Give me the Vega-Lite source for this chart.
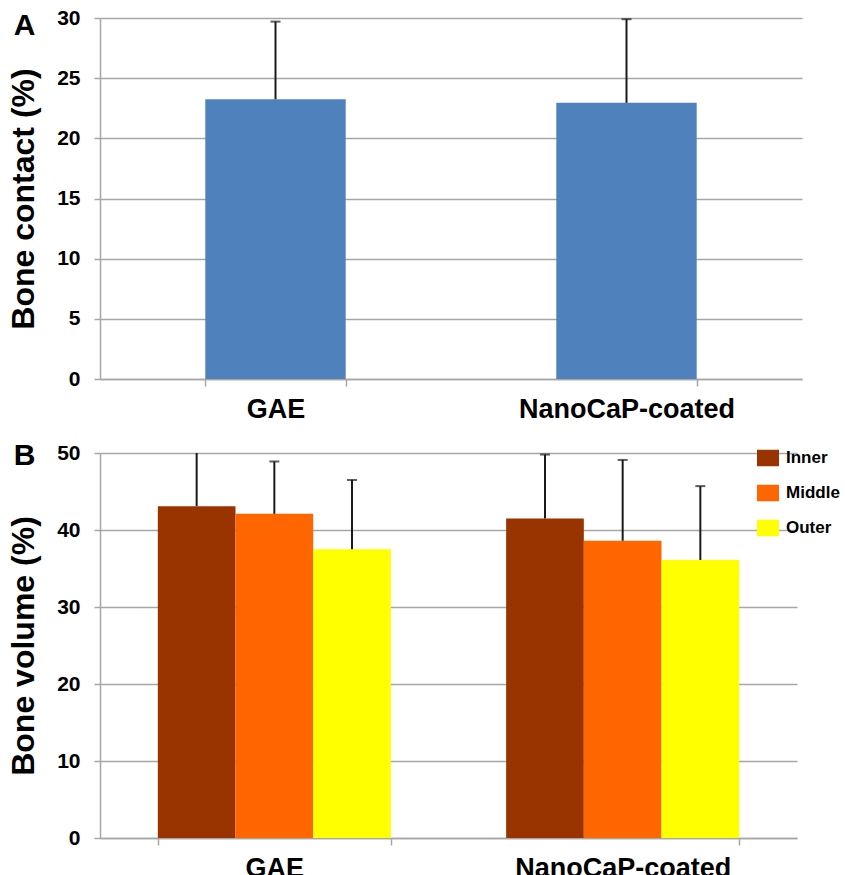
{
  "$schema": "https://vega.github.io/schema/vega-lite/v6.json",
  "background": "white",
  "padding": {"left": 7, "top": 7, "right": 0, "bottom": 0},
  "spacing": 19,
  "resolve": {"legend": {"color": "independent"}, "scale": {"color": "independent"}},
  "config": {
    "view": {"stroke": null},
    "font": "Liberation Sans",
    "axis": {
      "labelFont": "Liberation Sans",
      "titleFont": "Liberation Sans",
      "labelColor": "black",
      "titleColor": "black",
      "labelFontWeight": "bold",
      "titleFontWeight": "bold",
      "domainColor": "#a6a6a6",
      "tickColor": "#a6a6a6",
      "gridColor": "#a6a6a6",
      "domainWidth": 1.5,
      "tickWidth": 1.5,
      "gridWidth": 1.5,
      "labelLimit": 0
    },
    "axisY": {"labelFontSize": 21, "titleFontSize": 32, "tickSize": 6, "labelPadding": 14, "titlePadding": 16, "grid": true},
    "axisX": {"labelFontSize": 27, "tickSize": 7, "labelPadding": 10, "labelAngle": 0, "grid": false, "tickBand": "extent"},
    "title": {"font": "Liberation Sans", "fontWeight": "bold", "color": "black"}
  },
  "datasets": {
    "contact": [
      {"group": "GAE", "value": 23.25, "upper": 29.7},
      {"group": "NanoCaP-coated", "value": 22.95, "upper": 29.9}
    ],
    "volume": [
      {"group": "GAE", "zone": "Inner", "value": 43.1, "upper": 51.0},
      {"group": "GAE", "zone": "Middle", "value": 42.1, "upper": 48.9},
      {"group": "GAE", "zone": "Outer", "value": 37.5, "upper": 46.5},
      {"group": "NanoCaP-coated", "zone": "Inner", "value": 41.5, "upper": 49.8},
      {"group": "NanoCaP-coated", "zone": "Middle", "value": 38.6, "upper": 49.1},
      {"group": "NanoCaP-coated", "zone": "Outer", "value": 36.1, "upper": 45.7}
    ]
  },
  "vconcat": [
    {
      "width": 702,
      "height": 361,
      "title": {"text": "A", "anchor": "start", "frame": "bounds", "fontSize": 30, "baseline": "alphabetic", "offset": 0, "dy": 58, "dx": 6},
      "data": {"name": "contact"},
      "encoding": {
        "x": {"field": "group", "type": "nominal", "sort": null, "title": null,
              "scale": {"paddingInner": 0.6, "paddingOuter": 0.3}}
      },
      "layer": [
        {
          "mark": {"type": "bar", "color": "#4F81BD"},
          "encoding": {
            "y": {"field": "value", "type": "quantitative", "title": "Bone contact (%)",
                  "scale": {"domain": [0, 30], "nice": false},
                  "axis": {"values": [0, 5, 10, 15, 20, 25, 30]}}
          }
        },
        {
          "mark": {"type": "rule", "color": "#1a1a1a", "strokeWidth": 2},
          "encoding": {
            "y": {"field": "value", "type": "quantitative", "title": "Bone contact (%)"},
            "y2": {"field": "upper"}
          }
        },
        {
          "mark": {"type": "tick", "color": "#1a1a1a", "thickness": 2, "size": 10, "orient": "horizontal"},
          "encoding": {
            "y": {"field": "upper", "type": "quantitative", "title": "Bone contact (%)"}
          }
        }
      ]
    },
    {
      "width": 697,
      "height": 385,
      "title": {"text": "B", "anchor": "start", "frame": "bounds", "fontSize": 30, "baseline": "alphabetic", "offset": 0, "dy": 53, "dx": 6},
      "data": {"name": "volume"},
      "encoding": {
        "x": {"field": "group", "type": "nominal", "sort": null, "title": null,
              "scale": {"paddingInner": 0.331, "paddingOuter": 0.166}},
        "xOffset": {"field": "zone", "type": "nominal", "sort": ["Inner", "Middle", "Outer"],
                    "scale": {"paddingInner": 0, "paddingOuter": 0}}
      },
      "layer": [
        {
          "mark": {"type": "bar"},
          "encoding": {
            "y": {"field": "value", "type": "quantitative", "title": "Bone volume (%)",
                  "scale": {"domain": [0, 50], "nice": false},
                  "axis": {"values": [0, 10, 20, 30, 40, 50]}},
            "color": {"field": "zone", "type": "nominal",
                      "scale": {"domain": ["Inner", "Middle", "Outer"], "range": ["#993300", "#FF6600", "#FFFF00"]},
                      "legend": {"orient": "none", "legendX": 657, "legendY": -6, "title": null,
                                 "symbolType": "M-1,-0.75H1V0.75H-1Z", "symbolSize": 484,
                                 "symbolStrokeWidth": 0, "symbolOpacity": 1,
                                 "labelFont": "Liberation Sans", "labelFontSize": 17, "labelFontWeight": "bold",
                                 "labelColor": "black", "rowPadding": 15, "labelOffset": 7, "padding": 0}}
          }
        },
        {
          "mark": {"type": "rule", "color": "#1a1a1a", "strokeWidth": 2, "clip": true},
          "encoding": {
            "y": {"field": "value", "type": "quantitative", "title": "Bone volume (%)"},
            "y2": {"field": "upper"}
          }
        },
        {
          "mark": {"type": "tick", "color": "#1a1a1a", "thickness": 2, "size": 10, "orient": "horizontal", "clip": true},
          "encoding": {
            "y": {"field": "upper", "type": "quantitative", "title": "Bone volume (%)"}
          }
        }
      ]
    }
  ]
}
